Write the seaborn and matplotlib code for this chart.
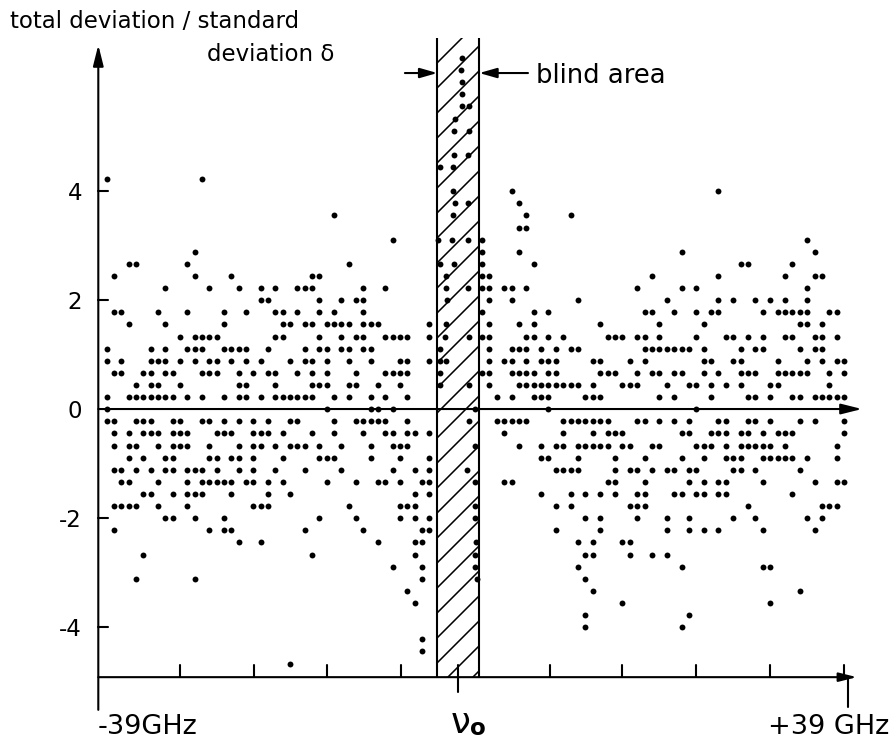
import matplotlib
matplotlib.use("Agg")
import matplotlib.pyplot as plt
from matplotlib.patches import Rectangle
import seaborn as sns
import pandas as pd

# ---------------- data (frequency offset in GHz, deviation in units of delta) -------------
left_freq = [-38.13, -37.36, -36.60, -35.84, -35.08, -34.31, -33.55, -32.79, -32.03, -31.27,
             -30.50, -29.74, -28.98, -28.22, -27.45, -26.69, -25.93, -25.17, -24.40, -23.64,
             -22.88, -22.12, -21.36, -20.59, -19.83, -19.07, -18.31, -17.54, -16.78, -16.02,
             -15.26, -14.49, -13.73, -12.97, -12.21, -11.45, -10.68, -9.92, -9.16, -8.40,
             -7.63, -6.87, -6.11, -5.35, -4.58]
left_dev = [
    [4.22, 1.11, 0.89, 0.22, 0.0, -0.22],
    [2.44, 1.78, 0.67, -0.22, -0.44, -0.67, -1.11, -1.78, -2.22],
    [1.78, 0.89, 0.67, -1.11, -1.33, -1.78],
    [2.67, 1.56, 0.22, -0.44, -0.67, -0.89, -1.33, -1.78],
    [2.67, 0.44, 0.22, -0.22, -0.67, -1.11, -1.78, -3.11],
    [0.67, 0.22, -0.22, -0.44, -0.89, -1.56, -2.67],
    [1.11, 0.89, 0.67, 0.44, 0.22, -0.22, -0.44, -1.11, -1.56],
    [1.78, 0.89, 0.44, 0.22, -0.44, -0.67, -1.33, -1.78],
    [2.22, 1.56, 1.11, 0.89, 0.67, 0.22, -0.89, -1.11, -2.0],
    [0.67, 0.22, -0.22, -0.44, -0.67, -0.89, -1.11, -1.56, -2.0],
    [1.33, 0.89, 0.44, -0.22, -0.44, -0.67],
    [2.67, 1.78, 1.11, 0.22, -0.44, -0.67, -1.11, -1.33, -1.56, -1.78],
    [2.89, 2.44, 1.33, 1.11, 0.89, -1.11, -1.56, -2.0, -3.11],
    [4.22, 1.33, 1.11, 0.67, 0.22, -0.22, -1.11, -1.33, -1.56],
    [2.22, 1.33, 0.89, 0.67, -0.22, -0.67, -0.89, -1.33, -2.22],
    [1.33, 0.89, 0.67, -0.44, -0.89, -1.11, -1.33],
    [1.78, 1.56, 1.11, 0.22, -0.22, -0.44, -1.33, -2.0, -2.22],
    [2.44, 1.11, 0.89, -0.44, -0.89, -1.33, -1.56, -2.22],
    [2.22, 1.11, 0.67, 0.44, 0.22, -0.22, -0.67, -0.89, -1.11, -2.44],
    [1.78, 1.11, 0.89, 0.44, 0.22, -1.33],
    [0.67, -0.22, -0.44, -0.67, -0.89, -1.11, -1.33, -1.78],
    [2.22, 2.0, 0.89, 0.22, -0.44, -0.67, -1.78, -2.44],
    [2.0, 1.11, 0.67, -0.22, -0.44, -1.33, -1.56, -1.78],
    [2.22, 1.78, 1.33, 0.67, 0.44, 0.22, -0.67, -1.11],
    [1.78, 1.56, 1.33, 0.22, -0.44, -0.89, -1.33],
    [1.56, 0.89, 0.22, -0.22, -0.67, -1.56, -4.67],
    [2.22, 1.78, 0.67, 0.22, -0.22, -0.67],
    [2.22, 1.56, 1.11, 0.89, 0.22, -0.67, -1.11, -2.22],
    [2.44, 2.22, 1.56, 0.89, 0.67, 0.44, 0.22, -0.44, -2.67],
    [2.44, 2.0, 1.78, 1.33, 1.11, 0.44, -0.67, -0.89, -2.0],
    [1.56, 1.11, 0.89, 0.67, 0.44, 0.0, -0.89, -1.33],
    [3.56, 1.78, 1.56, 0.22, -0.22, -0.44, -0.89],
    [2.0, 1.56, 1.33, 1.11, -0.67, -1.11],
    [2.67, 1.56, 1.11, 0.89, 0.44, 0.22, -1.78],
    [2.0, 1.33, 0.67, 0.44, -0.22, -1.33, -2.0],
    [2.22, 2.0, 1.78, 1.56, 1.33, 1.11, -0.22, -0.44, -2.22],
    [1.56, 1.11, 0.89, 0.22, 0.0, -0.22, -0.67, -0.89],
    [1.56, 0.44, 0.0, -0.22, -1.33, -2.44],
    [2.22, 1.33, 0.67, 0.22, -0.22, -0.44, -1.33],
    [3.11, 1.33, 0.67, 0.0, -0.44, -0.67, -1.11, -2.89],
    [1.33, 0.89, 0.67, 0.44, -0.67, -0.89, -1.33, -1.78, -2.0],
    [1.33, 0.89, 0.67, 0.22, -0.22, -0.44, -0.67, -1.78, -3.33],
    [-0.44, -1.11, -1.56, -1.78, -2.0, -2.44, -2.67, -3.56],
    [-1.33, -2.22, -2.44, -2.89, -3.11, -4.22, -4.44],
    [1.56, 1.33, 0.89, -0.44, -0.89, -1.11, -1.33, -1.56, -2.0, -2.22],
]

blind_freq = [-1.20, -1.28, -1.20, -1.20, -1.20, -0.41, -1.90, -2.01, -0.41, -2.01, -0.58,
              -3.46, -2.08, -2.08, -1.93, -0.58, -2.08, -3.64, -2.18, -0.58, -3.46, -2.01,
              -2.87, -2.87, -0.52, -2.76, -2.84, -2.94, -0.41, -3.46, -3.46, -2.87, -3.46,
              -3.46, -0.41, 0.18, -0.41, 0.18, -0.62, 0.18, 0.18, 0.18, 0.28, 0.18, 0.18, 0.36]
blind_dev = [6.44, 6.22, 6.0, 5.78, 5.56, 5.56, 5.33, 5.11, 5.11, 4.67, 4.67,
             4.44, 4.44, 4.0, 3.78, 3.78, 3.56, 3.11, 3.11, 3.11, 2.67, 2.67,
             2.44, 2.22, 2.22, 2.0, 1.56, 1.33, 1.33, 1.11, 0.89, 0.89, 0.67,
             0.44, 0.44, 0.0, -0.22, -0.67, -1.11, -1.33, -1.78, -2.0, -2.44, -2.67, -2.89, -3.11]

right_freq = [0.91, 1.68, 2.44, 3.21, 3.98, 4.75, 5.52, 6.29, 7.05, 7.82, 8.59, 9.36, 10.13,
              10.90, 11.67, 12.44, 13.20, 13.97, 14.74, 15.51, 16.28, 17.05, 17.82, 18.58,
              19.35, 20.12, 20.89, 21.66, 22.43, 23.20, 23.96, 24.73, 25.50, 26.27, 27.04,
              27.81, 28.58, 29.35, 30.11, 30.88, 31.65, 32.42, 33.19, 33.96, 34.73, 35.49,
              36.26, 37.03, 37.80, 38.57]
right_dev = [
    [3.11, 2.89, 2.67, 2.44, 2.22, 1.78, 1.33, 0.67],
    [2.44, 2.22, 2.0, 1.56, 1.33, 1.11, 0.89, 0.67, 0.44],
    [0.22, -0.22],
    [2.22, 0.89, -0.22, -0.44, -1.33],
    [4.0, 2.22, 2.0, 1.11, 0.89, 0.67, 0.22, -0.22, -1.33],
    [3.78, 3.33, 2.89, 1.56, 1.11, 0.67, 0.44, -0.22, -0.67],
    [3.56, 3.33, 2.22, 1.33, 1.11, 0.89, 0.67, 0.44, -0.22],
    [2.67, 1.78, 1.56, 1.33, 0.67, 0.44, 0.22],
    [1.11, 0.89, 0.44, 0.22, -0.67, -0.89, -1.56],
    [1.78, 1.33, 0.89, 0.67, 0.44, 0.22, 0.0, -0.89],
    [1.11, 0.89, 0.67, 0.44, -0.67, -1.11, -1.78, -2.22],
    [1.33, 0.44, -0.22, -0.44, -0.67, -1.11],
    [3.56, 1.11, 0.44, -0.22, -1.11, -1.56, -1.78],
    [2.0, 1.11, 0.44, -0.22, -0.67, -0.89, -1.11, -2.44, -2.89],
    [0.22, -0.22, -0.67, -1.56, -2.0, -2.67, -3.11, -3.78, -4.0],
    [0.89, 0.44, 0.22, -0.22, -0.44, -0.67, -2.44, -2.67, -3.33],
    [1.56, 0.89, 0.67, 0.22, -0.22, -0.67, -1.56, -2.0, -2.22],
    [1.33, 0.67, -0.22, -0.44, -0.67, -1.33],
    [1.33, 0.67, -0.44, -0.89, -1.11, -1.33, -1.56],
    [1.33, 0.44, -0.44, -0.67, -2.44, -3.56],
    [0.89, 0.44, -0.67, -1.11, -1.78, -2.44, -2.67],
    [2.22, 1.33, 0.67, 0.44, -0.22, -1.11, -1.56, -1.78, -2.0],
    [1.78, 1.33, 1.11, 0.89, -0.22, -0.89, -1.33, -1.56, -1.78],
    [2.44, 1.78, 1.11, 0.67, -0.67, -1.11, -2.67],
    [1.56, 1.33, 1.11, 0.67, 0.22, -0.22, -0.67],
    [2.0, 1.11, 0.44, -1.11, -2.0, -2.22, -2.67],
    [1.78, 1.11, 0.67, 0.22, -0.22, -1.11, -1.56],
    [2.89, 2.22, 1.11, 0.67, -0.44, -0.89, -1.56, -2.89, -4.0],
    [1.11, 0.44, -0.22, -0.44, -1.11, -1.33, -2.0, -2.22, -3.78],
    [2.22, 1.78, 1.33, 0.44, 0.0, -0.67, -1.11, -1.56],
    [1.56, 1.11, 0.89, 0.67, -0.67, -0.89, -1.33, -1.56, -2.22],
    [1.78, 0.89, 0.44, 0.22, -0.44, -0.67],
    [4.0, 2.44, 2.0, 1.78, 0.67, -0.22, -0.44, -1.33, -1.56, -2.22],
    [1.33, 0.44, -0.22, -0.44, -0.67, -0.89, -1.33, -1.56],
    [2.0, 1.33, 0.89, -0.89, -1.11, -2.0],
    [2.67, 1.11, 0.89, 0.67, 0.44, -0.44, -0.67, -0.89, -1.11],
    [2.67, 1.33, 0.67, 0.22, -0.22, -0.44, -0.67, -1.78],
    [2.0, 1.11, 0.67, 0.22, -0.22, -0.67, -1.11, -2.0],
    [1.78, 1.33, 1.11, -0.44, -0.67, -0.89, -1.33, -2.22, -2.89],
    [2.0, 0.44, 0.22, -0.22, -0.67, -0.89, -2.89, -3.56],
    [1.78, 0.89, 0.67, 0.44, -0.44, -0.89],
    [2.44, 2.0, 1.78, 1.33, 0.67, -0.44, -0.67, -0.89],
    [2.67, 1.78, 1.33, 0.67, 0.22, -0.44, -0.89, -1.56],
    [1.78, 1.56, 1.11, 0.67, 0.22, -0.22, -1.11, -3.33],
    [3.11, 2.22, 2.0, 1.78, 1.56, 0.89, 0.67, -0.89, -2.0],
    [2.89, 2.44, 1.33, 1.11, 0.22, -0.22, -1.33, -2.22],
    [2.44, 1.56, 1.33, 1.11, 0.89, 0.22, -1.78, -2.0],
    [1.78, 0.67, 0.44, 0.22, -1.78],
    [1.78, 1.33, 0.89, 0.22, -0.67, -0.89, -1.33, -1.78],
    [0.89, 0.67, 0.22, -0.22, -0.44, -1.33],
]

ytick_vals = [4, 2, 0, -2, -4]
ytick_labels = ["4", "2", "0", "-2", "-4"]
xtick_minor = [-30.5, -22.8, -15.2, -7.5, 8.0, 15.45, 23.15, 30.85, 38.55]
f_min, f_max = -39.0, 39.0
nu0 = -1.56
blind_lo, blind_hi = -3.74, 0.625
y_base = -4.92
y_top_arrow = 6.68
blind_top = 6.81

# ---------------- build table ----------------
rows = []
for f, devs in zip(left_freq, left_dev):
    rows += [(f, d) for d in devs]
rows += list(zip(blind_freq, blind_dev))
for f, devs in zip(right_freq, right_dev):
    rows += [(f, d) for d in devs]
df = pd.DataFrame(rows, columns=["freq", "dev"])

# ---------------- figure ----------------
sns.set_style("white")
plt.rcParams["font.family"] = ["DejaVu Sans"]
plt.rcParams["text.color"] = "black"
plt.rcParams["hatch.linewidth"] = 0.75

DPI = 150
fig = plt.figure(figsize=(892 / DPI, 740 / DPI), dpi=DPI)
ax = fig.add_axes([0, 0, 1, 1])
ax.set_xlim(-49.224, 43.55)
ax.set_ylim(-6.073, 7.505)
ax.axis("off")

lw = 1.0
k = "black"

# blind area (hatched band)
ax.add_patch(Rectangle((blind_lo, y_base), blind_hi - blind_lo, blind_top - y_base,
                       facecolor="none", edgecolor=k, hatch="//", linewidth=0, zorder=1))
ax.vlines([blind_lo, blind_hi], y_base, blind_top, color=k, lw=lw, zorder=2)

# axes with arrows
head = "-|>,head_length=0.6,head_width=0.15"
ax.annotate("", xy=(40.43, 0), xytext=(f_min, 0),
            arrowprops=dict(arrowstyle=head, color=k, lw=lw, shrinkA=0, shrinkB=0, mutation_scale=14))
ax.annotate("", xy=(39.9, y_base), xytext=(f_min, y_base),
            arrowprops=dict(arrowstyle=head, color=k, lw=lw, shrinkA=0, shrinkB=0, mutation_scale=12))
ax.annotate("", xy=(f_min, y_top_arrow), xytext=(f_min, -5.52),
            arrowprops=dict(arrowstyle=head, color=k, lw=lw, shrinkA=0, shrinkB=0, mutation_scale=14))

# y ticks and labels
for v, lab in zip(ytick_vals, ytick_labels):
    if v != 0:
        ax.plot([f_min, f_min + 1.0], [v, v], color=k, lw=lw)
    ax.text(-40.7, v - 0.16, lab, ha="right", va="baseline", fontsize=11, color=k)

# bottom ticks
for t in xtick_minor:
    ax.plot([t, t], [y_base, y_base + 0.23], color=k, lw=lw)
ax.plot([f_max, f_max], [y_base, -5.47], color=k, lw=lw)
ax.plot([nu0, nu0], [-4.70, -5.19], color=k, lw=lw)

# bottom labels
ax.text(-39.05, -5.96, "-39GHz", ha="left", va="baseline", fontsize=13, color=k)
ax.text(43.3, -5.96, "+39 GHz", ha="right", va="baseline", fontsize=13, color=k)
ax.text(-1.3, -5.95, "ν", ha="center", va="baseline", fontsize=17, color=k)
ax.text(-0.35, -5.99, "o", ha="left", va="baseline", fontsize=11, fontweight="bold", color=k)

# axis title
ax.text(-48.18, 7.0, "total deviation / standard", ha="left", va="baseline", fontsize=11, color=k)
ax.text(-27.69, 6.385, "deviation δ", ha="left", va="baseline", fontsize=11, color=k)

# blind-area dimension arrows
small = "-|>,head_length=0.7,head_width=0.2"
ax.annotate("", xy=(blind_lo, 6.165), xytext=(-7.11, 6.165),
            arrowprops=dict(arrowstyle=small, color=k, lw=lw, shrinkA=0, shrinkB=0, mutation_scale=10))
ax.annotate("", xy=(blind_hi, 6.165), xytext=(5.69, 6.165),
            arrowprops=dict(arrowstyle=small, color=k, lw=lw, shrinkA=0, shrinkB=0, mutation_scale=10))
ax.text(6.52, 5.98, "blind area", ha="left", va="baseline", fontsize=12.4, color=k)

# measured points
sns.scatterplot(data=df, x="freq", y="dev", color=k, s=8, linewidth=0, ax=ax,
                legend=False, zorder=5)
ax.set_xlim(-49.224, 43.55)
ax.set_ylim(-6.073, 7.505)
ax.axis("off")

fig.savefig("out.png", dpi=DPI)
